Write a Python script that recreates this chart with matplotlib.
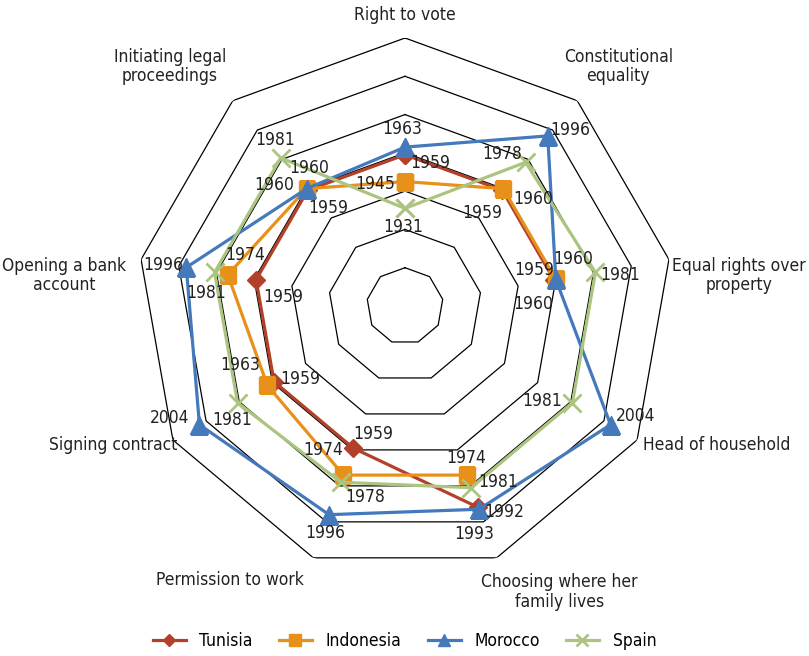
import matplotlib
matplotlib.use('Agg')
import matplotlib.pyplot as plt
import numpy as np

plt.rcParams['font.family'] = ['DejaVu Sans']
plt.rcParams['font.stretch'] = 'condensed'

# data
categories = ['Right to vote', 'Constitutional\nequality', 'Equal rights over\nproperty',
              'Head of household', 'Choosing where her\nfamily lives', 'Permission to work',
              'Signing contract', 'Opening a bank\naccount', 'Initiating legal\nproceedings']
tunisia = [1959, 1959, 1959, np.nan, 1992, 1959, 1959, 1959, 1959]
indonesia = [1945, 1960, 1960, np.nan, 1974, 1974, 1963, 1974, 1960]
morocco = [1963, 1996, 1960, 2004, 1993, 1996, 2004, 1996, 1960]
spain = [1931, 1978, 1981, 1981, 1981, 1978, 1981, 1981, 1981]
rings = [1880, 1900, 1920, 1940, 1960, 1980, 2000, 2020]

# label offsets (pixels) for each point's data label
offs = {
    'Tunisia':   [(25, -8), (-20, -23), (-20, 10), None, (26, -5), (20, 14), (26, 3), (27, -17), (20, -18)],
    'Indonesia': [(-30, -2), (30, -10), (17, 20), None, (0, 17), (-20, 25), (-27, 20), (17, 20), (3, 21)],
    'Morocco':   [(-3, 18), (23, 6), (-23, -25), (25, 9), (-5, -25), (-4, -18), (-30, 7), (-23, 2), (-32, 4)],
    'Spain':     [(-2, -19), (-23, 8), (25, -3), (-30, 2), (27, 6), (24, -15), (-5, -17), (-8, -21), (-6, 18)],
}
label_off = [(0, 23), (41, 34), (70, -16), (80, -5), (63, -34), (-83, -22), (-60, -5), (-77, -16), (-63, 34)]

n = len(categories)
theta = np.arange(n) * 2 * np.pi / n

fig = plt.figure(figsize=(8.09, 6.56), dpi=100)
ax = fig.add_axes([137/809, 82/656, 536/809, 536/656], projection='polar')
ax.set_theta_zero_location('N')
ax.set_theta_direction(-1)
ax.set_ylim(1880, 2020)
ax.grid(False)
ax.spines['polar'].set_visible(False)
ax.set_xticks([])
ax.set_yticks([])
ax.patch.set_visible(False)

# polygon grid
tc = np.append(theta, theta[0])
for r in rings[1:]:
    ax.plot(tc, [r] * (n + 1), color='black', lw=0.9, zorder=1)

series = [
    ('Tunisia', tunisia, '#B3402A', 'D', 9),
    ('Indonesia', indonesia, '#E8911A', 's', 12),
    ('Morocco', morocco, '#4479BB', '^', 13),
    ('Spain', spain, '#ABC580', 'x', 13),
]

for name, vals, col, mk, ms in series:
    v = np.append(vals, vals[0])
    ax.plot(tc, v, color=col, lw=2.3, marker=mk, markersize=ms,
            markeredgewidth=2 if mk == 'x' else 1, markeredgecolor=col,
            label=name, zorder=3)
    for i, val in enumerate(vals):
        if np.isnan(val):
            continue
        ax.annotate(str(int(val)), xy=(theta[i], val), xytext=offs[name][i],
                    textcoords='offset pixels', ha='center', va='center',
                    fontsize=12.5, color='#222222', zorder=5, annotation_clip=False)

for i, cat in enumerate(categories):
    ax.annotate(cat, xy=(theta[i], 2020), xytext=label_off[i], textcoords='offset pixels',
                ha='center', va='center', fontsize=12.5, color='#222222',
                linespacing=1.1, annotation_clip=False)

leg = fig.legend(loc='lower center', bbox_to_anchor=(0.5, -0.015), ncol=4, frameon=False,
                 fontsize=12.5, handlelength=1.9, columnspacing=1.5, markerscale=0.7,
                 handletextpad=0.8)

fig.savefig('out.png', dpi=100)
